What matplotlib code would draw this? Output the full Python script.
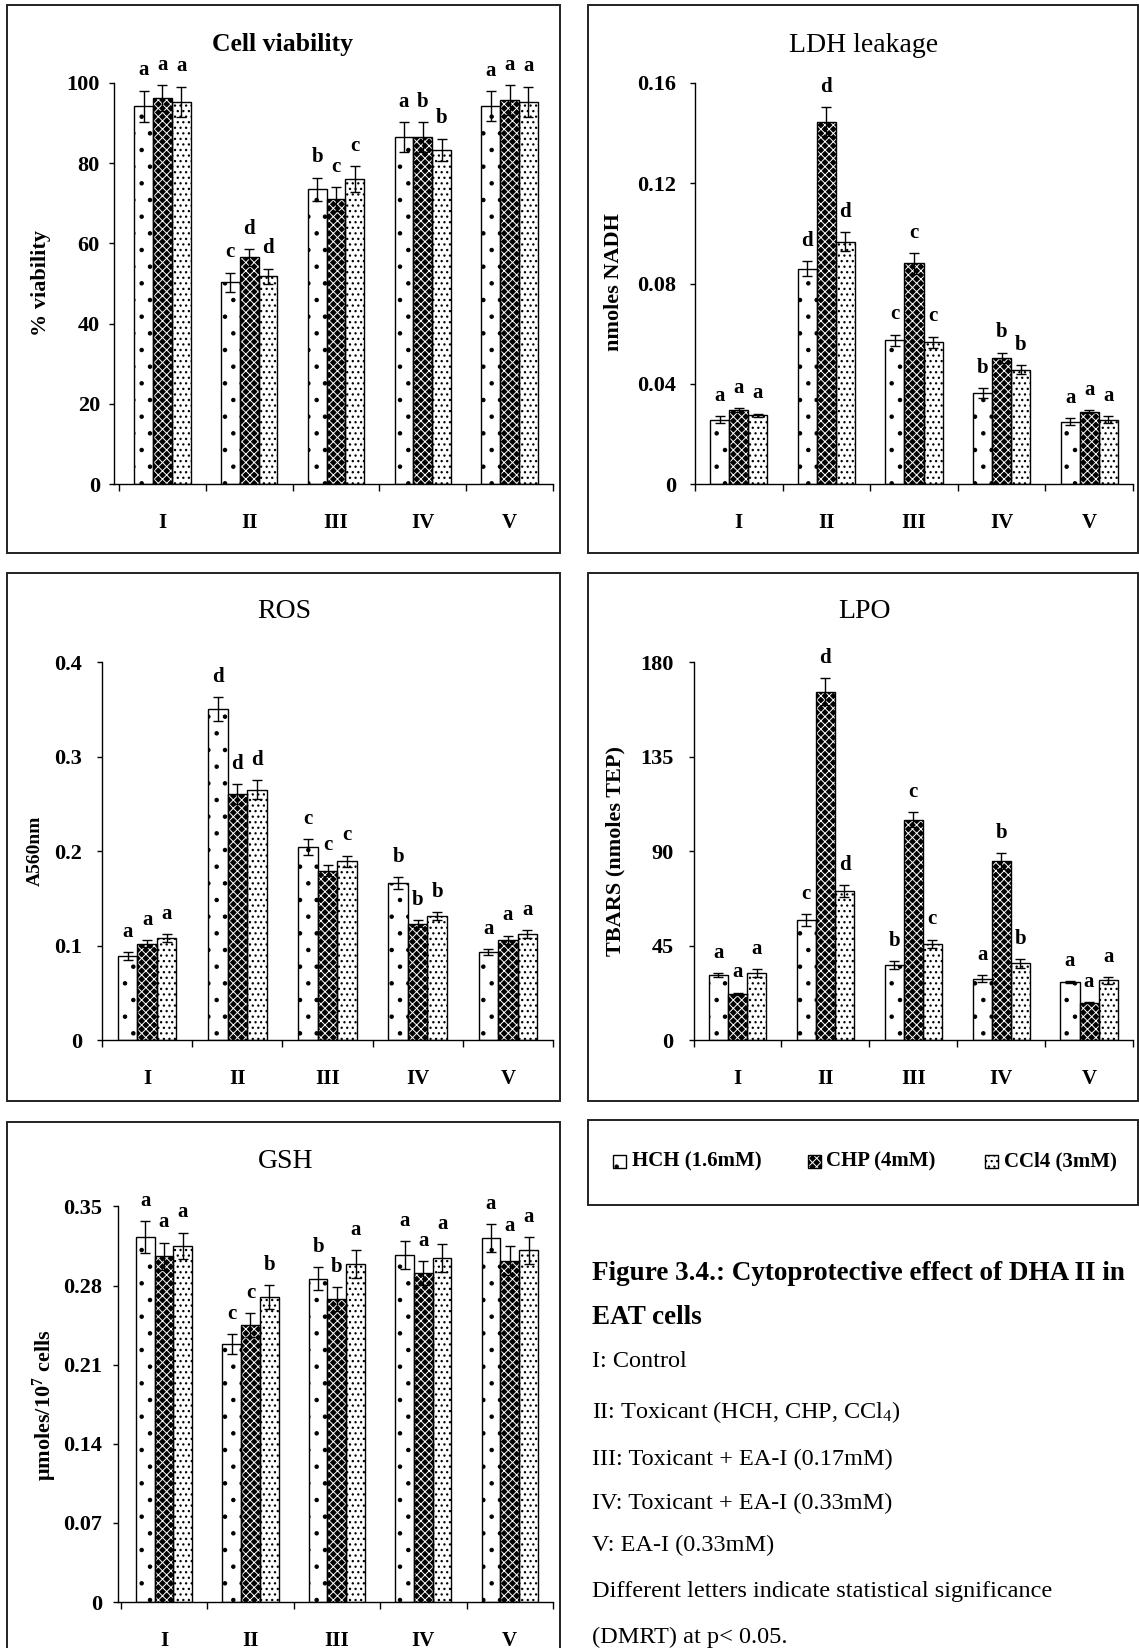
import matplotlib
matplotlib.use("Agg")
import matplotlib.pyplot as plt
import matplotlib.transforms as mtransforms
from matplotlib.patches import Rectangle
import numpy as np

plt.rcParams['font.family'] = ['Liberation Serif', 'DejaVu Serif']
plt.rcParams['mathtext.fontset'] = 'custom'
plt.rcParams['mathtext.rm'] = 'Liberation Serif'
plt.rcParams['mathtext.it'] = 'Liberation Serif:italic'
plt.rcParams['mathtext.bf'] = 'Liberation Serif:bold'
plt.rcParams['hatch.linewidth'] = 0.9

# ---------------------------------------------------------------- data
groups = ['I', 'II', 'III', 'IV', 'V']
series = ['HCH (1.6mM)', 'CHP (4mM)', 'CCl4 (3mM)']

# Cell viability (% viability)
via_hch = [94.2, 50.3, 73.5, 86.6, 94.2]
via_chp = [96.2, 56.5, 71.1, 86.6, 95.7]
via_ccl4 = [95.3, 51.8, 76.0, 83.3, 95.3]
via_hch_err = [3.9, 2.4, 2.9, 3.7, 3.8]
via_chp_err = [3.3, 2.1, 2.9, 3.7, 3.8]
via_ccl4_err = [3.8, 1.9, 3.2, 2.8, 3.8]
via_hch_sig = ['a', 'c', 'b', 'a', 'a']
via_chp_sig = ['a', 'd', 'c', 'b', 'a']
via_ccl4_sig = ['a', 'd', 'c', 'b', 'a']

# LDH leakage (nmoles NADH)
ldh_hch = [0.0256, 0.0858, 0.0573, 0.0363, 0.0249]
ldh_chp = [0.0295, 0.1446, 0.0880, 0.0503, 0.0289]
ldh_ccl4 = [0.0274, 0.0966, 0.0566, 0.0456, 0.0256]
ldh_hch_err = [0.0014, 0.0030, 0.0023, 0.0019, 0.0014]
ldh_chp_err = [0.0009, 0.0057, 0.0041, 0.0021, 0.0006]
ldh_ccl4_err = [0.0007, 0.0038, 0.0022, 0.0017, 0.0014]
ldh_hch_sig = ['a', 'd', 'c', 'b', 'a']
ldh_chp_sig = ['a', 'd', 'c', 'b', 'a']
ldh_ccl4_sig = ['a', 'd', 'c', 'b', 'a']

# ROS (A560nm)
ros_hch = [0.089, 0.350, 0.204, 0.166, 0.093]
ros_chp = [0.102, 0.260, 0.179, 0.123, 0.106]
ros_ccl4 = [0.108, 0.265, 0.189, 0.131, 0.112]
ros_hch_err = [0.004, 0.0125, 0.0087, 0.0064, 0.003]
ros_chp_err = [0.004, 0.0106, 0.0057, 0.0038, 0.0045]
ros_ccl4_err = [0.004, 0.0098, 0.006, 0.0042, 0.0042]
ros_hch_sig = ['a', 'd', 'c', 'b', 'a']
ros_chp_sig = ['a', 'd', 'c', 'b', 'a']
ros_ccl4_sig = ['a', 'd', 'c', 'b', 'a']

# LPO (TBARS, nmoles TEP)
lpo_hch = [30.9, 57.2, 35.7, 29.2, 27.5]
lpo_chp = [22.1, 165.9, 104.9, 85.2, 17.8]
lpo_ccl4 = [31.75, 71.0, 45.8, 36.5, 28.4]
lpo_hch_err = [1.0, 2.7, 1.7, 1.7, 0.5]
lpo_chp_err = [0.5, 6.5, 3.7, 3.9, 0.3]
lpo_ccl4_err = [1.9, 2.9, 2.0, 2.0, 1.7]
lpo_hch_sig = ['a', 'c', 'b', 'a', 'a']
lpo_chp_sig = ['a', 'd', 'c', 'b', 'a']
lpo_ccl4_sig = ['a', 'd', 'c', 'b', 'a']

# GSH (umoles / 10^7 cells)
gsh_hch = [0.323, 0.228, 0.286, 0.307, 0.322]
gsh_chp = [0.306, 0.245, 0.268, 0.291, 0.302]
gsh_ccl4 = [0.315, 0.270, 0.299, 0.304, 0.311]
gsh_hch_err = [0.014, 0.0088, 0.0104, 0.012, 0.012]
gsh_chp_err = [0.012, 0.0104, 0.0104, 0.0104, 0.0126]
gsh_ccl4_err = [0.0117, 0.0104, 0.012, 0.0123, 0.012]
gsh_hch_sig = ['a', 'c', 'b', 'a', 'a']
gsh_chp_sig = ['a', 'c', 'b', 'a', 'a']
gsh_ccl4_sig = ['a', 'b', 'a', 'a', 'a']

via_ticks = [0, 20, 40, 60, 80, 100]
ldh_ticks = [0, 0.04, 0.08, 0.12, 0.16]
ros_ticks = [0, 0.1, 0.2, 0.3, 0.4]
lpo_ticks = [0, 45, 90, 135, 180]
gsh_ticks = [0, 0.07, 0.14, 0.21, 0.28, 0.35]
via_ticklabels = ['0', '20', '40', '60', '80', '100']
ldh_ticklabels = ['0', '0.04', '0.08', '0.12', '0.16']
ros_ticklabels = ['0', '0.1', '0.2', '0.3', '0.4']
lpo_ticklabels = ['0', '45', '90', '135', '180']
gsh_ticklabels = ['0', '0.07', '0.14', '0.21', '0.28', '0.35']

caption_lines = [
    ('Figure 3.4.: Cytoprotective effect of DHA II in', 'bold'),
    ('EAT cells', 'bold'),
    ('I: Control', 'normal'),
    ('II: Toxicant (HCH, CHP, CCl$_4$)', 'normal'),
    ('III: Toxicant + EA-I (0.17mM)', 'normal'),
    ('IV: Toxicant + EA-I (0.33mM)', 'normal'),
    ('V: EA-I (0.33mM)', 'normal'),
    ('Different letters indicate statistical significance', 'normal'),
    ('(DMRT) at p< 0.05.', 'normal'),
]

# ---------------------------------------------------------------- figure
W, H = 1139, 1648
DPI = 100
fig = plt.figure(figsize=(W / DPI, H / DPI), dpi=DPI)
fig.patch.set_facecolor('white')

# fill / hatch style of each series: face colour, hatch colour, hatch,
# hatch line width
styles = [('white', 'black', '.', 0.8),
          ('black', 'white', 'xxxx', 0.7),
          ('white', 'black', '...', 0.9)]
BW = 0.217


def fx(x):
    return x / W


def fy(y):
    return 1 - y / H


def ftext(x, y, s, **kw):
    return fig.text(fx(x), fy(y), s, **kw)


def frame(x0, y0, x1, y1):
    fig.add_artist(Rectangle((fx(x0), fy(y1)), (x1 - x0) / W, (y1 - y0) / H,
                             transform=fig.transFigure, fill=False,
                             lw=1.4, ec='#222222'))


def panel(box, first_px, ymax, ticks, ticklabels, vals, errs, sigs,
          ytick_pad, title, tpos, tkw, ylabel, ypos, ykw):
    x0, x1, ytop, ybot = box
    ax = fig.add_axes([fx(x0), fy(ybot), (x1 - x0) / W, (ybot - ytop) / H])
    cat_w = (x1 - first_px) / 5.0
    ax.set_xlim(-(first_px - x0) / cat_w, 5)
    ax.set_ylim(0, ymax)
    ax.patch.set_alpha(0)
    for sp in ('top', 'right'):
        ax.spines[sp].set_visible(False)
    for sp in ('left', 'bottom'):
        ax.spines[sp].set_linewidth(1.0)
    ax.set_xticks(range(6))
    ax.set_xticklabels([])
    ax.tick_params(axis='x', direction='out', length=5, width=1.0)
    ax.set_yticks(ticks)
    ax.set_yticklabels(ticklabels, fontsize=16, fontweight='bold')
    ax.tick_params(axis='y', direction='out', length=3.5, width=1.0,
                   pad=ytick_pad)

    centers = np.arange(5) + 0.5
    for k in range(3):
        xs = centers + (k - 1) * BW
        face, hc, hatch, hlw = styles[k]
        with plt.rc_context({'hatch.linewidth': hlw}):
            ax.bar(xs, vals[k], BW, color=face, edgecolor=hc, hatch=hatch,
                   linewidth=0, zorder=2)
        ax.bar(xs, vals[k], BW, fill=False, edgecolor='black',
               linewidth=1.0, zorder=3)
        ax.errorbar(xs, vals[k], yerr=errs[k], fmt='none', ecolor='black',
                    elinewidth=1.0, capsize=3.6, capthick=1.0, zorder=4)
        for xi, v, e, s in zip(xs, vals[k], errs[k], sigs[k]):
            ax.annotate(s, (xi, v + e), xytext=(0, 11),
                        textcoords='offset points', ha='center',
                        va='baseline', fontsize=15, fontweight='bold')

    lab_tr = mtransforms.offset_copy(ax.get_xaxis_transform(), fig=fig,
                                     y=-39, units='dots')
    for c, g in zip(centers, groups):
        ax.text(c, 0, g, transform=lab_tr, ha='center', va='center',
                fontsize=15, fontweight='bold')

    ftext(tpos[0], tpos[1], title, ha='center', va='center', **tkw)
    ftext(ypos[0], ypos[1], ylabel, ha='center', va='center',
          rotation=90, **ykw)
    return ax


# panel frames
frame(7, 5, 560, 553)
frame(587.5, 5, 1137.5, 553)
frame(7, 572.5, 560, 1100.5)
frame(587.5, 572.5, 1137.5, 1100.5)
frame(7, 1121.5, 560, 1700)
frame(587.5, 1119.5, 1137.5, 1205)

panel((113.6, 553, 83, 484), 119, 100, via_ticks, via_ticklabels,
      [via_hch, via_chp, via_ccl4],
      [via_hch_err, via_chp_err, via_ccl4_err],
      [via_hch_sig, via_chp_sig, via_ccl4_sig],
      6.3, 'Cell viability', (283, 45), dict(fontsize=18.5, fontweight='bold'),
      '% viability', (41, 283), dict(fontsize=16, fontweight='bold'))

panel((695, 1133, 83, 484), 695, 0.16, ldh_ticks, ldh_ticklabels,
      [ldh_hch, ldh_chp, ldh_ccl4],
      [ldh_hch_err, ldh_chp_err, ldh_ccl4_err],
      [ldh_hch_sig, ldh_chp_sig, ldh_ccl4_sig],
      10, 'LDH leakage', (864, 45), dict(fontsize=20),
      'nmoles NADH', (614, 282), dict(fontsize=16, fontweight='bold'))

panel((102, 553, 662, 1040), 102, 0.4, ros_ticks, ros_ticklabels,
      [ros_hch, ros_chp, ros_ccl4],
      [ros_hch_err, ros_chp_err, ros_ccl4_err],
      [ros_hch_sig, ros_chp_sig, ros_ccl4_sig],
      10.9, 'ROS', (284, 612), dict(fontsize=20),
      'A560nm', (35, 851), dict(fontsize=14, fontweight='bold'))

panel((693.6, 1133, 662, 1040), 693.6, 180, lpo_ticks, lpo_ticklabels,
      [lpo_hch, lpo_chp, lpo_ccl4],
      [lpo_hch_err, lpo_chp_err, lpo_ccl4_err],
      [lpo_hch_sig, lpo_chp_sig, lpo_ccl4_sig],
      10.9, 'LPO', (864, 612), dict(fontsize=20),
      'TBARS (nmoles TEP)', (615, 851), dict(fontsize=16, fontweight='bold'))

panel((118, 553, 1206.4, 1602), 120.7, 0.35, gsh_ticks, gsh_ticklabels,
      [gsh_hch, gsh_chp, gsh_ccl4],
      [gsh_hch_err, gsh_chp_err, gsh_ccl4_err],
      [gsh_hch_sig, gsh_chp_sig, gsh_ccl4_sig],
      8, 'GSH', (286, 1162), dict(fontsize=20),
      r'$\mathbf{\mu}$moles/10$^{\mathbf{7}}$ cells', (45, 1405),
      dict(fontsize=16, fontweight='bold'))

# legend row
leg_x = [613, 807.5, 984.5]
for (face, hc, hatch, hlw), name, lx in zip(styles, series, leg_x):
    with plt.rc_context({'hatch.linewidth': hlw}):
        fig.add_artist(Rectangle((fx(lx), fy(1167.5)), 13 / W, 13 / H,
                                 transform=fig.transFigure, facecolor=face,
                                 edgecolor=hc, hatch=hatch, linewidth=0))
    fig.add_artist(Rectangle((fx(lx), fy(1167.5)), 13 / W, 13 / H,
                             transform=fig.transFigure, fill=False,
                             edgecolor='black', linewidth=1.0))
    ftext(lx + 19, 1161, name, ha='left', va='center', fontsize=15,
          fontweight='bold')

# caption
cap_y = [1274, 1318, 1361.5, 1412, 1459.5, 1503, 1545, 1592, 1637]
for (line, weight), y in zip(caption_lines, cap_y):
    ftext(592.5, y, line, ha='left', va='center',
          fontsize=19.5 if weight == 'bold' else 17.5, fontweight=weight)

fig.savefig('out.png', dpi=DPI, facecolor='white')
